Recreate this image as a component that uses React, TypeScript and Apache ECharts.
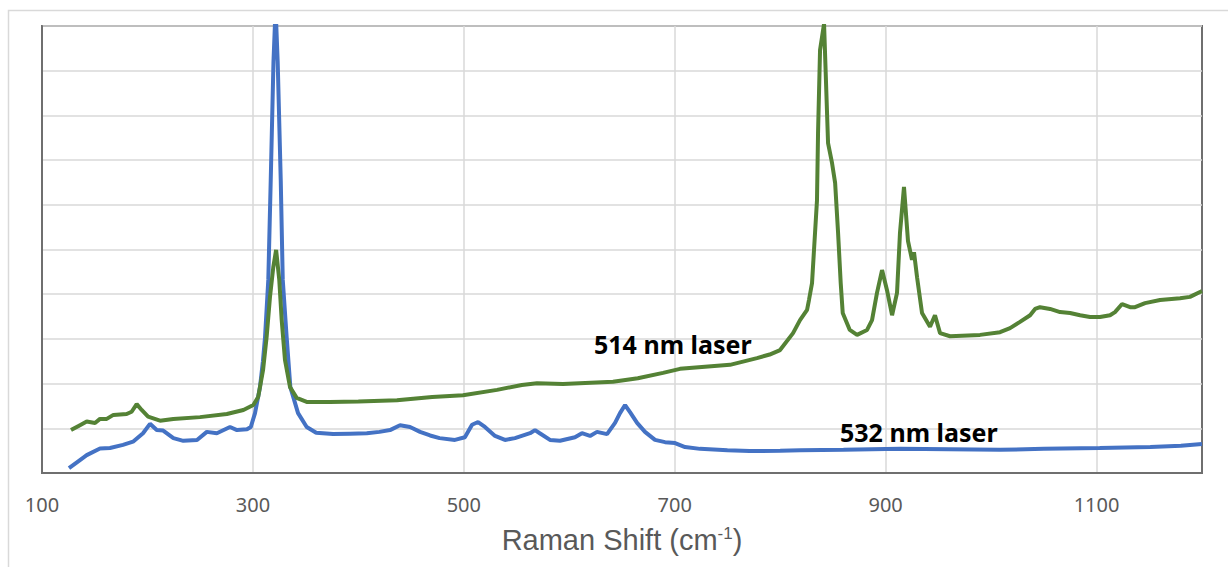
import React, { useEffect, useRef } from "react";
import * as echarts from "echarts";

// Raman shift (cm-1) and intensity (arbitrary units) for the 532 nm spectrum
const shift532 = [
  125.6, 136, 142.4, 155, 164.5, 176.8, 186.3, 195.8, 202.4, 208.8, 214.9, 224.6, 234, 247,
  256.3, 265.8, 278.3, 284.9, 294.4, 298, 302, 306.7, 309.5, 311.5, 314.6, 316.9, 319.5,
  321.5, 323.5, 326.4, 328.3, 332, 335.5, 342.8, 351, 360, 376, 392, 408, 420, 430, 439.5,
  449, 458.5, 468, 477, 491.6, 501, 507.8, 513.5, 520, 529.6, 539, 548.5, 562.8, 567.5, 572,
  581.7, 591.2, 605.4, 612, 619.7, 626.3, 635.8, 643.4, 648.1, 652.9, 657.6, 664.3, 671.8,
  681.3, 690.8, 700.3, 709.8, 724, 750, 771, 800, 819, 860, 913.6, 960, 1008.5, 1050, 1103,
  1151, 1180, 1200,
];
const int532 = [
  0.11, 0.29, 0.4, 0.55, 0.56, 0.63, 0.7, 0.89, 1.1, 0.96, 0.95, 0.78, 0.72, 0.74,
  0.92, 0.89, 1.03, 0.96, 0.98, 1.03, 1.34, 1.92, 2.5, 3.04, 4.32, 6.55, 9.2,
  10.4, 9.2, 6.55, 4.32, 3.04, 1.92, 1.34, 1.03, 0.9, 0.87, 0.88, 0.89, 0.92, 0.96, 1.07,
  1.03, 0.92, 0.84, 0.78, 0.74, 0.8, 1.08, 1.14, 1.03, 0.83, 0.74, 0.78, 0.89, 0.96, 0.89,
  0.74, 0.72, 0.8, 0.89, 0.83, 0.92, 0.87, 1.12, 1.34, 1.52, 1.36, 1.12, 0.92,
  0.74, 0.69, 0.67, 0.58, 0.54, 0.51, 0.49, 0.5, 0.51, 0.52, 0.54, 0.53, 0.52, 0.54, 0.56,
  0.58, 0.61, 0.65,
];

// Raman shift (cm-1) and intensity (arbitrary units) for the 514 nm spectrum
const shift514 = [
  127.5, 136, 142.4, 150.3, 155, 161.4, 167.7, 180.3, 185, 189.8, 194.5, 200.6, 211.9, 224.5,
  249.8, 275.3, 291, 300.4, 305, 309.6, 313, 316.2, 319.3, 322, 325, 327.3, 330.4, 335.2,
  341.5, 351, 373, 400, 436.6, 470, 499.2, 531.5, 555, 569.4, 594, 641.5, 665, 688.9, 705,
  752.4, 778, 790, 799.9, 812.2, 818.8, 825.5, 827.3, 830.2, 832.1, 834.9, 835.9, 837.8,
  841.6, 845.4, 849.2, 852.1, 854.9, 857.4, 859.3, 866, 872.9, 882.4, 887.1, 891.8, 896.6,
  901.3, 906.1, 910.8, 913.6, 917.4, 921.2, 925, 926.9, 929.8, 934.5, 942.1, 946.8, 951.6,
  961.1, 989.5, 1008.5, 1018, 1027.4, 1037, 1041.7, 1046.4, 1055.9, 1065.4, 1074.9, 1084.4,
  1093.8, 1103.3, 1112.8, 1117.5, 1124.2, 1131.8, 1136.5, 1146, 1160.2, 1179.2, 1188.6,
  1198.1, 1200,
];
const int514 = [
  0.96, 1.07, 1.15, 1.12, 1.21, 1.21, 1.3, 1.32, 1.37, 1.54, 1.41, 1.26, 1.17, 1.21,
  1.25, 1.32, 1.41, 1.52, 1.7, 2.3, 3.04, 3.94, 4.6, 4.99, 4.32, 3.42, 2.53, 1.92,
  1.68, 1.59, 1.59, 1.6, 1.63, 1.7, 1.74, 1.86, 1.97, 2.01, 1.99, 2.04, 2.12, 2.24, 2.33,
  2.42, 2.57, 2.65, 2.75, 3.13, 3.42, 3.65, 3.87, 4.25, 5.0, 6.1, 7.6, 9.46,
  10.05, 7.38, 6.93, 6.49, 5.37, 4.25, 3.58, 3.2, 3.09, 3.2, 3.42, 4.03, 4.54,
  4.09, 3.53, 4.03, 5.37, 6.4, 5.19, 4.77, 4.94, 4.38, 3.58, 3.27, 3.53, 3.13,
  3.06, 3.09, 3.15, 3.24, 3.38, 3.53, 3.67, 3.71, 3.67, 3.6, 3.58, 3.53,
  3.49, 3.49, 3.53, 3.6, 3.78, 3.71, 3.71, 3.8, 3.87, 3.91, 3.94,
  4.05, 4.07,
];

const seriesNames = ["532 nm laser", "514 nm laser"];
const xTitle = "Raman Shift (cm";
const xTitleSup = "-1";

const toPairs = (xs: number[], ys: number[]) => xs.map((x, i) => [x, ys[i]]);

export default function App() {
  const ref = useRef<HTMLDivElement>(null);

  useEffect(() => {
    if (!ref.current) return;
    const chart = echarts.init(ref.current, undefined, { renderer: "svg" });
    const axisGray = "#6f6f6f";
    const gridGray = "#d9d9d9";

    chart.setOption({
      animation: false,
      backgroundColor: "#ffffff",
      grid: {
        left: 42,
        top: 26,
        right: 26,
        bottom: 94,
        show: true,
        borderColor: axisGray,
        borderWidth: 2,
      },
      xAxis: {
        type: "value",
        min: 100,
        max: 1200,
        interval: 100,
        axisLine: { show: true, lineStyle: { color: axisGray, width: 2 } },
        axisTick: { show: false },
        axisLabel: {
          color: "#595959",
          fontFamily: "Noto Sans",
          fontSize: 20,
          margin: 21,
          showMaxLabel: false,
          formatter: (v: number) => ((v - 100) % 200 === 0 && v < 1200 ? String(v) : ""),
        },
        splitLine: {
          show: true,
          lineStyle: { color: [gridGray, "rgba(0,0,0,0)"], width: 1.5 },
        },
        name: `${xTitle}{sup|${xTitleSup}}{base|)}`,
        nameLocation: "middle",
        nameGap: 52,
        nameTextStyle: {
          color: "#595959",
          fontFamily: "Liberation Sans",
          fontSize: 29,
          rich: {
            sup: {
              color: "#595959",
              fontFamily: "Liberation Sans",
              fontSize: 17,
              verticalAlign: "top",
              padding: [0, 0, 12, 0],
            },
            base: {
              color: "#595959",
              fontFamily: "Liberation Sans",
              fontSize: 29,
            },
          },
        },
      },
      yAxis: {
        type: "value",
        min: 0,
        max: 10,
        interval: 1,
        axisLine: { show: true, lineStyle: { color: axisGray, width: 2 } },
        axisTick: { show: false },
        axisLabel: { show: false },
        splitLine: { show: true, lineStyle: { color: gridGray, width: 1.5 } },
      },
      series: [
        {
          name: seriesNames[0],
          type: "line",
          data: toPairs(shift532, int532),
          showSymbol: false,
          clip: true,
          z: 3,
          lineStyle: { color: "#4472c4", width: 4 },
          itemStyle: { color: "#4472c4" },
        },
        {
          name: seriesNames[1],
          type: "line",
          data: toPairs(shift514, int514),
          showSymbol: false,
          clip: true,
          z: 4,
          lineStyle: { color: "#548235", width: 4 },
          itemStyle: { color: "#548235" },
        },
      ],
      graphic: [
        {
          type: "rect",
          silent: true,
          z: 0,
          shape: { x: 8.5, y: 10.5, width: 1240, height: 600 },
          style: { fill: "none", stroke: "#d9d9d9", lineWidth: 1.5 },
        },
        {
          type: "text",
          z: 100,
          x: 594,
          y: 344,
          style: {
            text: seriesNames[1],
            fill: "#000000",
            font: "bold 25px 'Noto Sans'",
            textVerticalAlign: "middle",
          },
        },
        {
          type: "text",
          z: 100,
          x: 840,
          y: 432,
          style: {
            text: seriesNames[0],
            fill: "#000000",
            font: "bold 25px 'Noto Sans'",
            textVerticalAlign: "middle",
          },
        },
      ],
    });

    return () => chart.dispose();
  }, []);

  return (
    <div
      ref={ref}
      style={{ position: "fixed", left: 0, top: 0, width: 1228, height: 567, background: "#fff" }}
    />
  );
}
